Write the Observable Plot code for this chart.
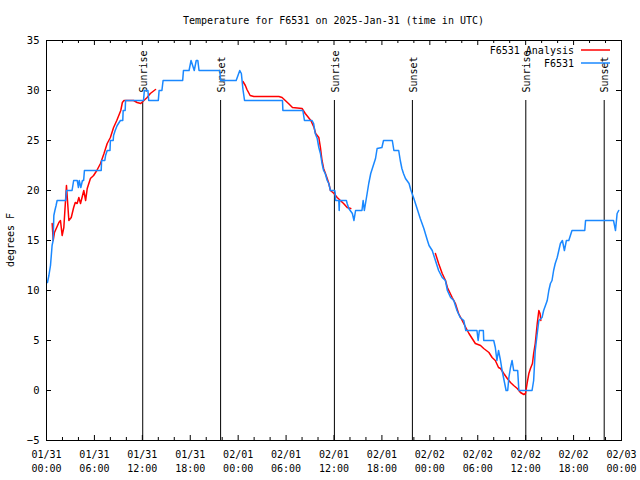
<!DOCTYPE html>
<html><head><meta charset="utf-8">
<script src="https://cdn.jsdelivr.net/npm/d3@7"></script>
<script src="https://cdn.jsdelivr.net/npm/@observablehq/plot@0.6"></script>
<style>html,body{margin:0;padding:0;background:#fff}svg{display:block}</style>
</head><body><div id="chart"></div>
<script>
const titleText = "Temperature for F6531 on 2025-Jan-31 (time in UTC)";
const yLabelText = "degrees F";
const startTime = "2025-01-31T00:00:00Z";
const endTime = "2025-02-03T00:00:00Z";
const yTicks = [-5, 0, 5, 10, 15, 20, 25, 30, 35];
const seriesNames = ["F6531 Analysis", "F6531"];
const seriesColors = ["#ff0000", "#1a88ff"];

// F6531 observations: hours after start, temperature (degrees F)
const obsHours = [0.12,0.3,0.5,0.6,0.7,0.83,0.92,1.05,1.2,1.33,2.4,2.5,3.2,3.3,3.4,3.85,4.0,4.1,4.3,4.5,4.65,4.75,6.85,6.9,7.3,7.4,7.6,7.95,8.0,8.35,8.4,8.6,8.85,9.25,9.55,9.6,9.85,9.9,12.15,12.25,12.7,12.8,14.0,14.1,14.45,14.6,17.05,17.15,17.85,18.1,18.3,18.5,18.75,18.95,19.1,21.7,21.8,23.75,24.2,24.4,24.6,24.8,29.55,29.6,32.1,32.3,33.25,33.45,33.65,33.9,34.1,34.3,34.5,34.7,34.9,35.15,35.35,35.55,36.1,36.15,36.2,36.6,36.65,36.7,37.55,37.65,37.85,38.3,38.5,38.7,39.5,39.65,39.8,40.15,40.35,40.6,40.8,41.0,41.2,41.4,42.0,42.2,43.3,43.5,44.1,44.3,44.5,44.7,44.95,45.4,45.6,46.0,46.4,46.8,47.25,47.7,47.9,48.3,48.7,49.1,49.55,49.95,50.2,50.6,51.0,51.4,51.8,52.25,52.5,53.9,54.05,54.2,54.7,54.75,56.0,56.2,56.4,56.6,56.85,57.05,57.3,57.55,57.75,57.9,58.1,58.3,58.5,59.0,59.15,60.8,61.0,61.2,61.45,61.65,62.05,62.25,62.7,62.9,63.1,63.3,63.5,63.7,63.95,64.15,64.35,64.6,64.85,65.1,65.4,65.8,67.4,67.5,71.0,71.25,71.45,71.65];
const obsTemps = [10.8,11.5,12.5,13.5,14.5,15,17.5,18,18.5,19,19,20,20,20.5,21,21,20.3,21,20.3,21,21,22,22,23,23,23.5,24,24,25,25,25.5,26,26.5,27,27,28,28,29,29,30,30,29,29,30,30,31,31,32,32,33,32.5,32,33,33,32,32,31,31,32,31.7,30.1,29,29,28,28,27,27,26.7,25.7,25.2,24.3,23.7,22.7,22,21.7,21,20.7,20,20,19.7,19,19,18,19,19,18.7,18.2,17.7,17,18,18,19,18,19.7,20.7,21.7,22.2,22.7,23.2,24.2,24.3,25,25,24,24,23,22.2,21.7,21.2,20.7,20.1,19.2,18.2,17.2,16.2,15,14.5,14,13,12,11.3,11,10,9.3,9,8,7.3,7,6,6,5,6,6,5,5,4.3,3,4,3,2,1,0,0,1.3,2.3,3,2,2,0,0,1,4,5.7,7,7.3,8,9,10,10.7,11,12,12.7,13.3,14,14.7,15,14,15,15,16,16,17,17,16,17.7,18];

// F6531 Analysis: hours after start, temperature; null marks a gap
const anaHours = [0.71,0.84,1.0,1.55,1.75,1.96,2.17,2.5,2.8,3.1,3.4,3.6,3.84,4.05,4.26,4.67,4.9,5.1,5.5,5.9,6.3,6.76,7.2,7.6,8.0,8.4,8.8,9.3,9.5,9.7,10.9,11.35,11.8,12.2,12.6,13.0,13.65,null,24.6,24.9,25.1,25.3,25.5,25.96,29.1,29.5,29.9,30.3,30.8,32.0,32.4,33.1,33.5,33.7,34.1,34.3,34.5,34.7,35.15,35.35,35.56,36.0,36.4,36.8,37.2,37.65,38.1,null,48.7,49.1,49.55,49.96,50.2,50.8,51.2,51.6,52.05,52.5,52.9,53.3,53.7,54.35,54.75,55.4,55.8,56.2,56.6,56.85,57.26,57.7,58.1,58.5,58.95,59.35,59.77,59.98,60.2,60.4,60.6,60.85,61.0,61.2,61.45,61.65,61.8,61.9];
const anaTemps = [16.7,15,15.8,16.8,17,15.5,16.3,20.5,17,17.3,18.3,18.8,18.7,19.3,18.7,20,19,20.2,21.2,21.5,22,22.7,23.7,24.7,25.3,26.3,27,28,28.8,29,29,28.8,28.7,29,29.3,29.7,30.1,null,30.9,30.5,30.1,29.8,29.5,29.4,29.4,29.3,29,28.7,28.3,28.2,27.7,27,26.3,25.7,25.3,24.3,23,22.2,21.2,20.7,20,19.7,19.3,19,18.7,18.3,18.2,null,13.7,12.7,11.7,11,10.3,9.3,8.7,7.7,7,6.3,5.7,5.2,4.7,4.5,4.2,3.8,3.3,3,2.3,2.2,1.7,1.2,0.8,0.5,0.2,-0.2,-0.4,-0.3,0.8,1.7,2.2,2.7,3.7,4.7,6.7,8,7.7,7];

const sunLabels = ["Sunrise","Sunset","Sunrise","Sunset","Sunrise","Sunset"];
const sunTimes = ["2025-01-31T12:03Z","2025-01-31T21:48Z","2025-02-01T12:03Z","2025-02-01T21:49Z","2025-02-02T12:01Z","2025-02-02T21:50Z"];

const t0 = new Date(startTime), t1 = new Date(endTime);
const toDate = h => h == null ? null : new Date(+t0 + h * 3600e3);
const obs = obsHours.map((h, i) => ({t: toDate(h), v: obsTemps[i]}));
const ana = anaHours.map((h, i) => ({t: toDate(h), v: anaTemps[i] == null ? NaN : anaTemps[i]}));
const sun = sunTimes.map((s, i) => ({t: new Date(s), label: sunLabels[i]}));
const majorX = d3.utcHour.every(6).range(t0, new Date(+t1 + 1));
const minorX = d3.utcHour.every(2).range(t0, new Date(+t1 + 1)).filter(d => d.getUTCHours() % 6 !== 0);

const W = 640, H = 480, mL = 46, mR = 19, mT = 40, mB = 40;
const pw = W - mL - mR, ph = H - mT - mB;
const font = "DejaVu Sans Mono";
const fmt = d3.utcFormat("%m/%d\n%H:%M");

const svg = Plot.plot({
  width: W, height: H,
  marginLeft: mL, marginRight: mR, marginTop: mT, marginBottom: mB,
  style: {fontFamily: font, fontSize: "10px", background: "white", color: "black"},
  x: {type: "utc", domain: [t0, t1]},
  y: {domain: [-5, 35]},
  marks: [
    Plot.axisX({ticks: majorX, tickFormat: fmt, tickSize: 0, tickPadding: 7, label: null, fontSize: 10, lineHeight: 1.45}),
    Plot.axisY({ticks: yTicks, tickSize: 0, tickPadding: 7, label: null, fontSize: 10.5}),
    Plot.ruleX(majorX, {x: d => d, insetTop: ph - 5, stroke: "black"}),
    Plot.ruleX(majorX, {x: d => d, insetBottom: ph - 5, stroke: "black"}),
    Plot.ruleX(minorX, {x: d => d, insetTop: ph - 3, stroke: "black"}),
    Plot.ruleX(minorX, {x: d => d, insetBottom: ph - 3, stroke: "black"}),
    Plot.ruleY(yTicks, {y: d => d, insetRight: pw - 5, stroke: "black"}),
    Plot.ruleY(yTicks, {y: d => d, insetLeft: pw - 5, stroke: "black"}),
    Plot.ruleX(sun, {x: "t", insetTop: 60, stroke: "black", strokeWidth: 1}),
    Plot.text(sun, {x: "t", text: "label", frameAnchor: "top", dy: 52, dx: 1, rotate: -90, textAnchor: "start", lineAnchor: "middle", fontSize: 10, fill: "black"}),
    Plot.line(ana, {x: "t", y: "v", stroke: seriesColors[0], strokeWidth: 1.5}),
    Plot.line(obs, {x: "t", y: "v", stroke: seriesColors[1], strokeWidth: 1.5}),
    Plot.frame({stroke: "black"})
  ]
});

const s = d3.select(svg);
s.append("text").attr("x", mL + pw / 2).attr("y", 20).attr("text-anchor", "middle").attr("dy", "0.35em")
  .attr("font-family", font).attr("font-size", 10).attr("fill", "black").text(titleText);
s.append("text").attr("transform", `translate(10,${mT + ph / 2}) rotate(-90)`).attr("text-anchor", "middle").attr("dy", "0.35em")
  .attr("font-family", font).attr("font-size", 10).attr("fill", "black").text(yLabelText);
const lg = s.append("g").attr("font-family", font).attr("font-size", 10);
seriesNames.forEach((name, i) => {
  const y = 50 + i * 13;
  lg.append("text").attr("x", 574).attr("y", y).attr("dy", "0.35em").attr("text-anchor", "end").attr("fill", "black").text(name);
  lg.append("line").attr("x1", 581).attr("x2", 610).attr("y1", y).attr("y2", y).attr("stroke", seriesColors[i]).attr("stroke-width", 1.5);
});
document.getElementById("chart").appendChild(svg);
</script>
</body></html>
